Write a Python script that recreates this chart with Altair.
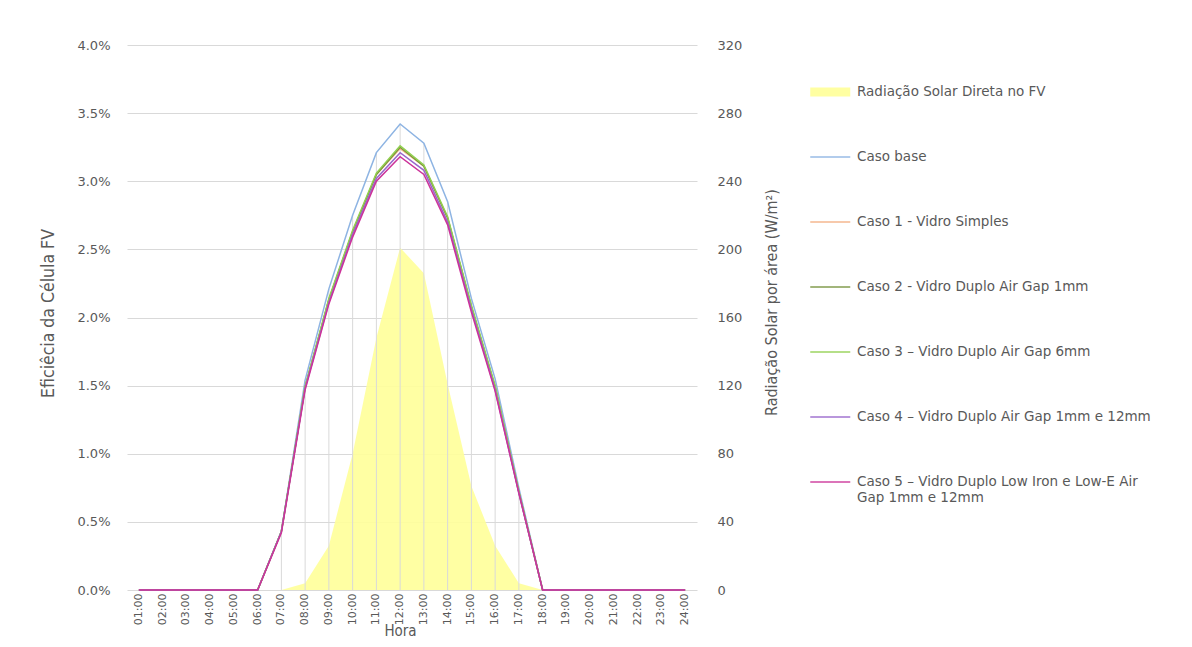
import altair as alt
import pandas as pd

hours = ["01:00", "02:00", "03:00", "04:00", "05:00", "06:00", "07:00", "08:00",
         "09:00", "10:00", "11:00", "12:00", "13:00", "14:00", "15:00", "16:00",
         "17:00", "18:00", "19:00", "20:00", "21:00", "22:00", "23:00", "24:00"]

radiacao = [0, 0, 0, 0, 0, 0, 0, 4, 26, 80, 148, 201, 186, 121, 61, 26, 4, 0, 0, 0, 0, 0, 0, 0]

caso_base = [0, 0, 0, 0, 0, 0, 0.0043, 0.0154, 0.0221, 0.0275, 0.0321, 0.0342,
             0.0328, 0.0285, 0.0214, 0.0155, 0.0075, 0, 0, 0, 0, 0, 0, 0]
caso_1 = [0, 0, 0, 0, 0, 0, 0.0043, 0.0149, 0.0213, 0.0263, 0.0305, 0.0324,
          0.0311, 0.0273, 0.0208, 0.0149, 0.0072, 0, 0, 0, 0, 0, 0, 0]
caso_2 = [0, 0, 0, 0, 0, 0, 0.0043, 0.0149, 0.0213, 0.0263, 0.0305, 0.0325,
          0.0311, 0.0273, 0.0208, 0.0149, 0.0072, 0, 0, 0, 0, 0, 0, 0]
caso_3 = [0, 0, 0, 0, 0, 0, 0.0043, 0.0149, 0.0214, 0.0264, 0.0306, 0.0326,
          0.0312, 0.0274, 0.0209, 0.0150, 0.0072, 0, 0, 0, 0, 0, 0, 0]
caso_4 = [0, 0, 0, 0, 0, 0, 0.0043, 0.0148, 0.0211, 0.0261, 0.0302, 0.0321,
          0.0308, 0.0270, 0.0206, 0.0147, 0.0071, 0, 0, 0, 0, 0, 0, 0]
caso_5 = [0, 0, 0, 0, 0, 0, 0.0042, 0.0147, 0.0210, 0.0259, 0.0300, 0.0318,
          0.0305, 0.0268, 0.0204, 0.0146, 0.0071, 0, 0, 0, 0, 0, 0, 0]

rad_name = "Radiação Solar Direta no FV"
line_names = ["Caso base", "Caso 1 - Vidro Simples", "Caso 2 - Vidro Duplo Air Gap 1mm",
              "Caso 3 – Vidro Duplo Air Gap 6mm", "Caso 4 – Vidro Duplo Air Gap 1mm e 12mm",
              "Caso 5 – Vidro Duplo Low Iron e Low-E Air Gap 1mm e 12mm"]
line_values = [caso_base, caso_1, caso_2, caso_3, caso_4, caso_5]
colors = ["#FFFF99", "#8EB4E3", "#F4B183", "#77933C", "#92D050", "#9966CC", "#CC3399"]

df_rad = pd.DataFrame({"hora": hours, "rad": radiacao, "serie": rad_name})
rows = []
for name, vals in zip(line_names, line_values):
    for h, v in zip(hours, vals):
        rows.append({"hora": h, "ef": v, "serie": name})
df_lines = pd.DataFrame(rows)
df_drop = pd.DataFrame({"hora": hours, "ef": caso_base})

GRAY = "#595959"
TITLE_FONT = "Liberation Sans Narrow, DejaVu Sans Condensed, sans-serif"
LABEL_FONT = "DejaVu Sans"

color_scale = alt.Scale(domain=[rad_name] + line_names, range=colors)
legend = alt.Legend(
    title=None, orient="none", legendX=683, legendY=27, direction="vertical",
    symbolType="stroke", symbolSize=1600, symbolOffset=13.5, symbolStrokeWidth=alt.ExprRef(
        expr=f"datum.value == '{rad_name}' ? 9 : 1.5"),
    labelFont=LABEL_FONT, labelFontSize=13.5, labelColor=GRAY, labelLimit=460,
    labelOffset=20, rowPadding=25, padding=0, clipHeight=40,
    labelExpr=("datum.label == 'Caso 5 – Vidro Duplo Low Iron e Low-E Air Gap 1mm e 12mm' ? "
               "['Caso 5 – Vidro Duplo Low Iron e Low-E Air', 'Gap 1mm e 12mm'] : datum.label"),
)

x_enc = alt.X("hora:O", sort=hours, scale=alt.Scale(domain=hours),
              axis=alt.Axis(title="Hora", labelAngle=270, labelFont=LABEL_FONT, labelFontSize=11,
                            labelColor=GRAY, labelPadding=3, ticks=False, domain=False, grid=False,
                            titleFont=TITLE_FONT, titleFontSize=15, titleFontWeight="normal",
                            titleColor=GRAY, titleX=273, titleY=48, titleBaseline="bottom"))

left_axis = alt.Axis(title="Eficiêcia da Célula FV", orient="left", format=".1%",
                     values=[0, 0.005, 0.01, 0.015, 0.02, 0.025, 0.03, 0.035, 0.04],
                     labelFont=LABEL_FONT, labelFontSize=13, labelColor=GRAY, labelPadding=17,
                     ticks=False, domain=False, grid=True, gridColor="#D9D9D9",
                     titleFont=TITLE_FONT, titleFontSize=17.5, titleFontWeight="normal",
                     titleColor=GRAY, titleAngle=270, titleX=-79, titleY=268,
                     titleAlign="center", titleBaseline="middle")

right_axis = alt.Axis(title="Radiação Solar por área (W/m²)", orient="right",
                      values=[0, 40, 80, 120, 160, 200, 240, 280, 320],
                      labelFont=LABEL_FONT, labelFontSize=13, labelColor=GRAY, labelPadding=20,
                      ticks=False, domain=False, grid=False,
                      titleFont=TITLE_FONT, titleFontSize=16, titleFontWeight="normal",
                      titleColor=GRAY, titleAngle=270, titleX=74, titleY=257,
                      titleAlign="center", titleBaseline="middle")

area = alt.Chart(df_rad).mark_area(opacity=0.9).encode(
    x=x_enc,
    y=alt.Y("rad:Q", scale=alt.Scale(domain=[0, 320]), axis=right_axis),
    color=alt.Color("serie:N", scale=color_scale, legend=legend),
)

y_ef = alt.Y("ef:Q", scale=alt.Scale(domain=[0, 0.04]), axis=left_axis)

drops = alt.Chart(df_drop).mark_rule(color="#D9D9D9", strokeWidth=1).encode(
    x=x_enc, y=y_ef, y2=alt.datum(0),
)

lines = alt.Chart(df_lines).mark_line(strokeWidth=1.5).encode(
    x=x_enc, y=y_ef,
    color=alt.Color("serie:N", scale=color_scale, legend=legend),
)

chart = alt.layer(area, alt.layer(drops, lines)).resolve_scale(y="independent").properties(
    width=570, height=545,
    autosize=alt.AutoSizeParams(type="none"),
    padding={"left": 119, "top": 37, "right": 487, "bottom": 49},
).configure_view(stroke=None)

chart.save("out.html", embed_options={"renderer": "svg", "actions": False})
